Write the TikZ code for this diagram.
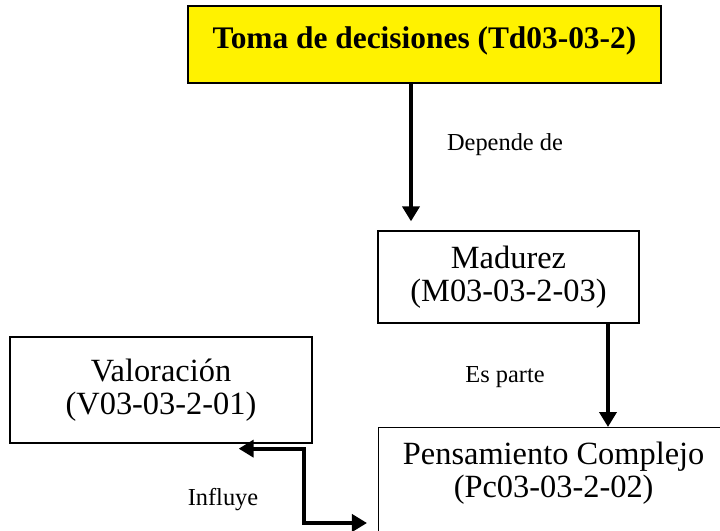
\documentclass[tikz,border=0pt]{standalone}
\usepackage{fontspec}
\setmainfont{Liberation Serif}
\usetikzlibrary{arrows.meta,positioning}

\tikzset{
  >={Triangle[length=7.5pt,width=8.5pt]},
  box/.style={draw, line width=0.65pt, align=center, inner sep=0pt,
    font=\fontsize{16.2}{16.5}\selectfont},
  link/.style={line width=2pt, ->},
  lbl/.style={font=\fontsize{12.2}{14}\selectfont}
}

\begin{document}
\begin{tikzpicture}[x=0.5pt,y=-0.5pt]
  \useasboundingbox (0,0) rectangle (720,531);

  % Boxes
  \node[box, fill=yellow, minimum width=236.5pt, minimum height=38.5pt,
    text depth=6.5pt, font=\fontsize{15.7}{19}\selectfont\bfseries]
    (toma) at (424.5,44.5) {Toma de decisiones (Td03-03-2)};
  \node[box, minimum width=130.5pt, minimum height=46pt] (mad) at (508.5,277)
    {Madurez\\(M03-03-2-03)};
  \node[box, minimum width=151pt, minimum height=53pt] (val) at (161,390)
    {Valoración\\(V03-03-2-01)};
  \node[box, anchor=north west, minimum width=175pt, inner ysep=7pt,
    text depth=40pt] (pens) at (378,427)
    {Pensamiento Complejo\\(Pc03-03-2-02)};

  % Labels
  \node[lbl] (dep) at (505,145) {Depende de};
  \node[lbl] (esp) at (505,377) {Es parte};
  \node[lbl] (inf) at (223,500) {Influye};

  % Arrows
  \draw[link] ([xshift=-6.75pt]toma.south)
    -- ([xshift=-6.75pt,yshift=4.5pt]toma.south |- mad.north);
  \draw[link] ([xshift=49.75pt]mad.south)
    -- ([xshift=49.75pt]mad.south |- pens.north);
  \draw[link,<->] ([xshift=-37pt,yshift=-2.5pt]val.south east) -- ++(65,0)
    |- ([xshift=-5.5pt,yshift=-48pt]pens.north west);
\end{tikzpicture}
\end{document}
